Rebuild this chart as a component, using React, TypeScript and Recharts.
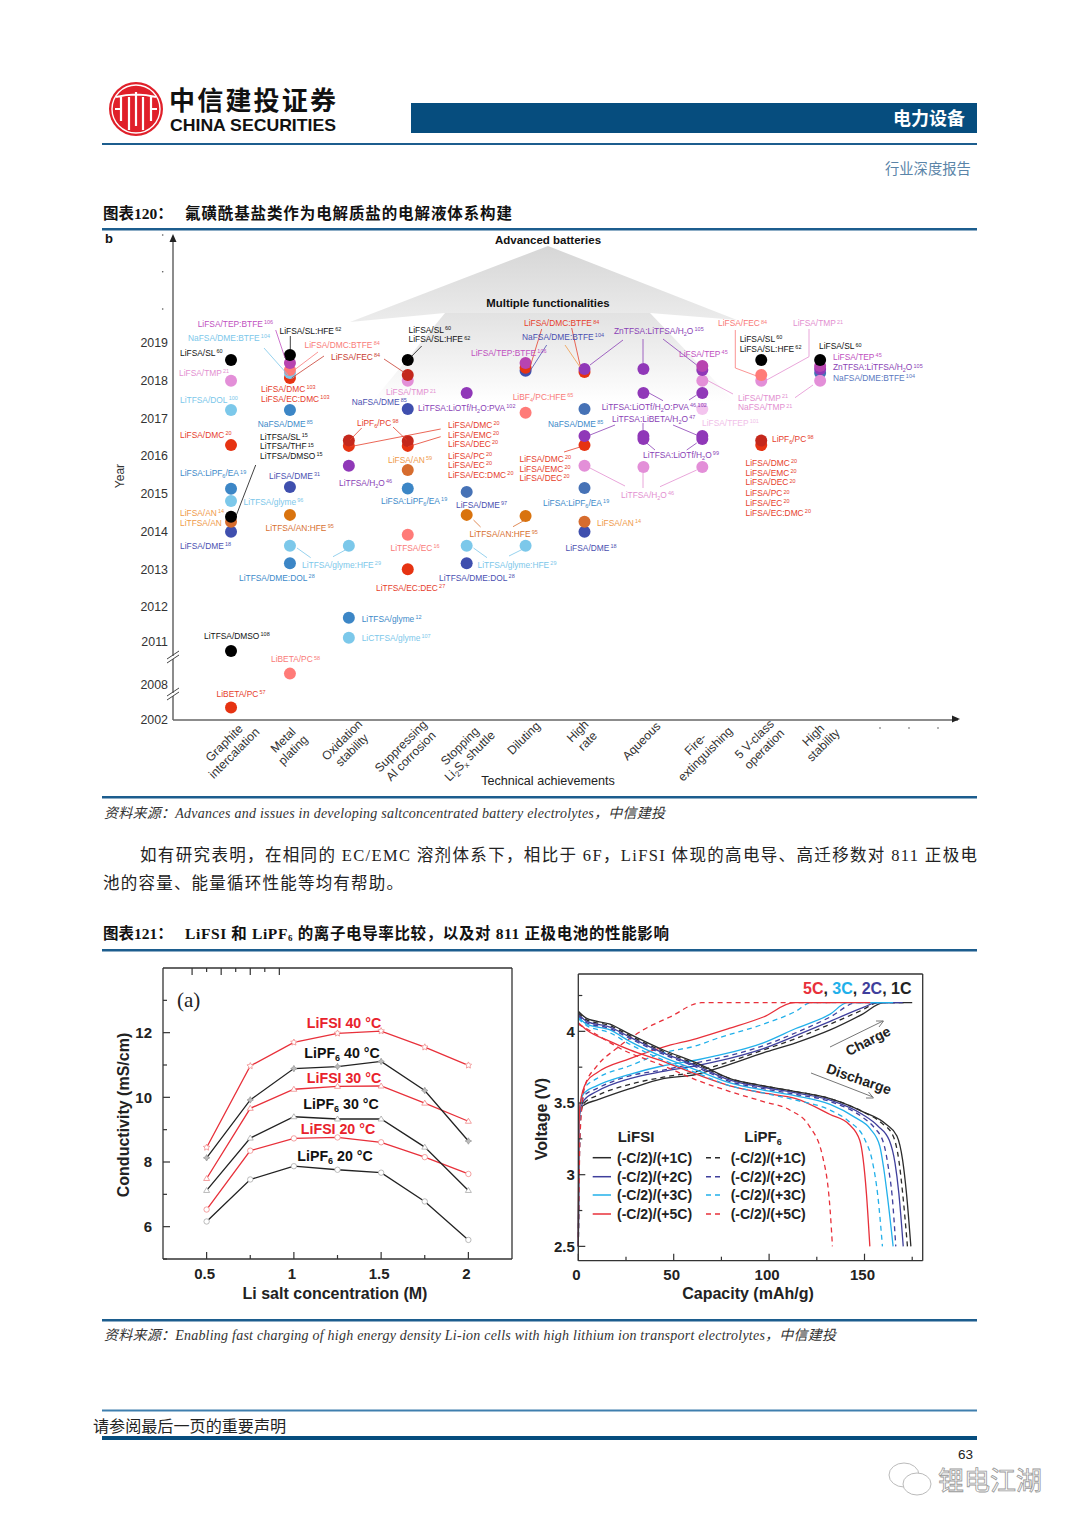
import React from "react";
import { ScatterChart, Scatter, LineChart, Line, XAxis, YAxis } from "recharts";

const SANS = "'Liberation Sans', Arial, sans-serif";
const CJK = "'Noto Sans CJK SC', sans-serif";
const SERIF = "'Liberation Serif', 'Noto Sans CJK SC', serif";

/* ---------- Figure 120 data ---------- */
const achievementLabels = [
  ["Graphite", "intercalation"], ["Metal", "plating"], ["Oxidation", "stability"],
  ["Suppressing", "Al corrosion"], ["Stopping", "Li_2S_x shuttle"], ["Diluting"],
  ["High", "rate"], ["Aqueous"], ["Fire-", "extinguishing"], ["5 V-class", "operation"], ["High", "stability"],
];
const achievementCenterDrop = [31, 28, 28, 34, 34, 21, 19, 24, 32, 27, 23];
const achievementTicks = [0, 1, 2, 3, 4, 5, 6, 7, 8, 9, 10];
const yearPositions = [2019, 2018, 2017, 2016, 2015, 2014, 2013, 2012, 2011.07, 2009.95, 2009];
const yearLabels = ["2019", "2018", "2017", "2016", "2015", "2014", "2013", "2012", "2011", "2008", "2002"];

const ptBlue = [[0, 2015.13], [1, 2017.22], [1, 2013.16], [2, 2011.71], [3, 2015.14]];
const ptSteel = [[4, 2015.05], [6, 2017.25], [6, 2015.15], [10, 2018.2]];
const ptNavy = [[0, 2013.99], [1, 2015.18], [3, 2017.25], [4, 2013.16], [5, 2018.26], [6, 2013.99]];
const ptOrange = [[1, 2014.44], [4, 2014.44], [5, 2014.41]];
const ptOrange2 = [[0, 2014.26], [3, 2015.63], [6, 2014.26]];
const ptRed = [[0, 2016.29], [0, 2009.33], [1, 2018.07], [2, 2016.27], [3, 2016.27], [3, 2013.0], [5, 2018.34], [6, 2018.23], [6, 2016.29], [9, 2016.29]];
const ptPink = [[0, 2018.0], [3, 2018.0], [6, 2015.74], [7, 2015.71], [8, 2015.71], [8, 2018.0], [9, 2018.0], [10, 2018.0]];
const ptLightPink = [[8, 2017.25]];
const ptLightBlue = [[0, 2017.22], [0, 2014.81], [1, 2018.2], [1, 2013.62], [2, 2013.62], [2, 2011.18], [4, 2013.62], [5, 2013.62]];
const ptSalmon = [[1, 2018.28], [1, 2010.23], [3, 2013.91], [5, 2017.15], [9, 2018.15]];
const ptDarkRed = [[2, 2016.41], [3, 2016.4], [3, 2018.15], [9, 2016.41]];
const ptPurple = [[2, 2015.74], [4, 2017.67], [6, 2018.31], [6, 2016.53], [7, 2018.31], [7, 2017.67], [7, 2016.53], [7, 2016.45], [8, 2018.28], [8, 2017.67], [8, 2016.53], [8, 2016.45], [10, 2018.31]];
const ptMagenta = [[1, 2018.47], [5, 2018.47], [8, 2018.39], [10, 2018.39]];
const ptBlack = [[0, 2018.55], [1, 2018.68], [3, 2018.55], [9, 2018.55], [10, 2018.55], [0, 2014.39], [0, 2010.83]];

const C = {
  blue: "#3c86c6", steel: "#4672b6", navy: "#3f4fae", orange: "#d9730e", orange2: "#d66c2e",
  red: "#e63312", pink: "#e38fd8", lightPink: "#f3c4ee", lightBlue: "#7cc8ea", salmon: "#ff7b78",
  darkRed: "#c4281c", purple: "#9038b8", magenta: "#b844b0", black: "#000000",
};
const scatterLayers: [number[][], string][] = [
  [ptBlue, C.blue], [ptSteel, C.steel], [ptNavy, C.navy], [ptOrange, C.orange], [ptOrange2, C.orange2],
  [ptRed, C.red], [ptPink, C.pink], [ptLightPink, C.lightPink], [ptLightBlue, C.lightBlue], [ptSalmon, C.salmon],
  [ptDarkRed, C.darkRed], [ptPurple, C.purple], [ptMagenta, C.magenta], [ptBlack, C.black],
];

const LC = { mag: "#c050c0", lb: "#7cc7ea", blk: "#111111", sal: "#f97a78", dr: "#c83c30", pk: "#e38fd0", red: "#e6402c", blu: "#3d8ac9", nav: "#4a4fb0", org: "#ef9a4a", dorg: "#d87030", pur: "#8a3fb5", lpk: "#f0c0e8", stl: "#5a78c0" };
const electrolyteNotes: [string, number, number, string][] = [
  ["LiFSA/TEP:BTFE^106", 197.7, 324, LC.mag], ["NaFSA/DME:BTFE^104", 188, 338, LC.lb], ["LiFSA/SL:HFE^62", 279.5, 331, LC.blk],
  ["LiFSA/DMC:BTFE^84", 304.5, 345, LC.sal], ["LiFSA/FEC^84", 331, 356.7, LC.dr], ["LiFSA/SL^60", 180, 353, LC.blk],
  ["LiFSA/TMP^21", 179, 373, LC.pk], ["LiTFSA/DOL^100", 180, 400, LC.lb], ["LiFSA/DMC^103", 261, 389, LC.red],
  ["LiFSA/EC:DMC^103", 261, 399, LC.red], ["NaFSA/DME^85", 257.7, 424, LC.blu], ["LiFSA/DMC^20", 180, 435, LC.red],
  ["LiTFSA/SL^15", 260, 437, LC.blk], ["LiTFSA/THF^15", 260, 446.5, LC.blk], ["LiTFSA/DMSO^15", 260, 456, LC.blk],
  ["LiFSA:LiPF_6/EA^19", 180, 473.5, LC.blu], ["LiFSA/DME^31", 269, 476, LC.nav], ["LiTFSA/glyme^96", 243.5, 502, LC.lb],
  ["LiFSA/AN^14", 180, 513, LC.org], ["LiTFSA/AN", 180, 523, LC.org], ["LiTFSA/AN:HFE^95", 265.5, 528, LC.dorg],
  ["LiFSA/DME^18", 180, 546, LC.nav], ["LiTFSA/glyme:HFE^29", 302, 565, LC.lb], ["LiTFSA/DME:DOL^28", 239, 578, LC.blu],
  ["LiTFSA/EC^16", 390.5, 548, LC.sal], ["LiTFSA/EC:DEC^27", 376, 588, LC.red], ["LiTFSA/DME:DOL^28", 439, 578, LC.nav],
  ["LiTFSA/glyme:HFE^29", 477.5, 565, LC.lb], ["LiTFSA/AN:HFE^95", 469.6, 534, LC.dorg], ["LiFSA/AN^14", 597, 523, LC.org],
  ["LiFSA/DME^18", 565.6, 548, LC.nav], ["LiTFSA/glyme^12", 361.7, 619, LC.blu], ["LiCTFSA/glyme^107", 361.7, 638, LC.lb],
  ["LiTFSA/DMSO^108", 204, 636, LC.blk], ["LiBETA/PC^58", 271, 659.5, LC.sal], ["LiBETA/PC^57", 216.6, 694, LC.red],
  ["LiFSA/DME^97", 456, 505, LC.nav], ["LiFSA:LiPF_6/EA^19", 381, 501, LC.blu], ["LiTFSA/H_2O^46", 339, 483, LC.pur],
  ["LiFSA/AN^59", 388, 460, LC.org], ["LiPF_6/PC^98", 357, 423, LC.red],
  ["LiFSA/DMC^20", 448, 425, LC.red], ["LiFSA/EMC^20", 448, 435, LC.red], ["LiFSA/DEC^20", 448, 444, LC.red],
  ["LiFSA/PC^20", 448, 456, LC.red], ["LiFSA/EC^20", 448, 465, LC.red], ["LiFSA/EC:DMC^20", 448, 475, LC.red],
  ["NaFSA/DME^85", 351.7, 401.7, LC.nav], ["LiFSA/TMP^21", 386, 392.5, LC.pk], ["LiTFSA:LiOTf/H_2O:PVA^102", 418, 408, LC.pur],
  ["LiFSA/SL^60", 408.5, 330, LC.blk], ["LiFSA/SL:HFE^62", 408.5, 339.5, LC.blk], ["LiFSA/TEP:BTFE^106", 471, 353, LC.mag],
  ["LiFSA/DMC:BTFE^84", 524, 323.5, LC.red], ["NaFSA/DME:BTFE^104", 522, 337, LC.nav], ["LiBF_4/PC:HFE^65", 512.7, 397, LC.sal],
  ["ZnTFSA:LiTFSA/H_2O^105", 614, 331, LC.pur], ["LiFSA/TEP^45", 679, 353.7, LC.mag], ["LiFSA/FEC^84", 718, 323.5, LC.sal],
  ["LiFSA/TMP^21", 793, 323.5, LC.pk], ["LiFSA/SL^60", 739.7, 339, LC.blk], ["LiFSA/SL:HFE^62", 739.7, 349, LC.blk],
  ["LiFSA/SL^60", 819, 346.5, LC.blk], ["LiFSA/TEP^45", 833, 357, LC.mag], ["ZnTFSA:LiTFSA/H_2O^105", 833, 367.5, LC.pur],
  ["NaFSA/DME:BTFE^104", 833, 378, LC.stl], ["LiFSA/TMP^21", 738, 398, LC.pk], ["NaFSA/TMP^21", 738, 407.5, LC.pk],
  ["LiFSA/TFEP^101", 702, 423, LC.lpk], ["LiPF_6/PC^98", 772, 439, LC.red],
  ["LiFSA/DMC^20", 745.5, 463, LC.red], ["LiFSA/EMC^20", 745.5, 473, LC.red], ["LiFSA/DEC^20", 745.5, 482.5, LC.red],
  ["LiFSA/PC^20", 745.5, 493.5, LC.red], ["LiFSA/EC^20", 745.5, 503, LC.red], ["LiFSA/EC:DMC^20", 745.5, 513, LC.red],
  ["LiTFSA:LiOTf/H_2O:PVA^46,102", 601.7, 407, LC.pur], ["LiTFSA:LiBETA/H_2O^47", 612, 419, LC.pur], ["NaFSA/DME^85", 548, 424, LC.blu],
  ["LiTFSA:LiOTf/H_2O^99", 643, 455, LC.pur], ["LiFSA/DMC^20", 519.5, 459, LC.red], ["LiFSA/EMC^20", 519.5, 469, LC.red],
  ["LiFSA/DEC^20", 519.5, 478, LC.red], ["LiTFSA/H_2O^46", 621, 495, LC.pk], ["LiFSA:LiPF_6/EA^19", 543, 503, LC.blu],
];
const leaderLines: [string, string][] = [
  ["M255.7 465L236 516", LC.blk], ["M290.3 336V350", LC.blk], ["M275.7 330L285 358", LC.mag], ["M264 348L288 375", LC.lb],
  ["M318 352L291.7 372", LC.sal], ["M324 356L291.7 378", LC.dr], ["M384 359L405 373", LC.dr], ["M421.7 346L408 360", LC.blk],
  ["M361.7 428L350 440", LC.red], ["M393 427L406.7 440", LC.red], ["M440.7 429L350 446.7", LC.red], ["M440.7 436.7L408 446.7", LC.red],
  ["M473.5 520L480.6 527", LC.dorg], ["M525 520L513 526.7", LC.dorg], ["M473.5 548L487 557.7", LC.lb], ["M525 548L509 556", LC.lb],
  ["M297 548L310.7 557.7", LC.lb], ["M349 548L333 556.7", LC.lb], ["M541.7 329L530 367", LC.red], ["M546.7 345L530 371", LC.nav],
  ["M565 345L580 367", LC.org], ["M571.7 328L580 365", LC.red], ["M623 340L590 365", LC.pur], ["M643 339V363", LC.pur],
  ["M663 339L696.7 365", LC.pur], ["M564 452L580 447", LC.red], ["M615 425L590 435", LC.pur], ["M643 423V430", LC.pur],
  ["M673 425L696.7 435", LC.pur], ["M655 450L646.7 443", LC.pur], ["M686.7 450L696.7 443", LC.pur], ["M649 393L663 400.7", LC.pur],
  ["M689 400L696.7 395", LC.pur], ["M706.7 380L733 394", LC.pk], ["M795 397.7L813 385", LC.pk], ["M735.3 330V368L756.7 376", LC.sal],
  ["M809 329V356.7L766.7 380", LC.pk], ["M588 467L625 486", LC.pk], ["M643 473V488", LC.pk], ["M696.7 470L660 486.7", LC.pk],
];

/* ---------- Figure 121 (a) data ---------- */
const concentration = [0.5, 0.75, 1, 1.25, 1.5, 1.75, 2];
const lifsi40 = [8.45, 10.97, 11.7, 11.98, 12.05, 11.55, 10.99];
const lipf40 = [8.13, 9.92, 10.89, 10.95, 11.11, 10.21, 8.65];
const lifsi30 = [7.49, 9.66, 10.25, 10.34, 10.35, 9.82, 9.26];
const lipf30 = [7.12, 8.74, 9.4, 9.33, 9.33, 8.46, 7.12];
const lifsi20 = [6.53, 8.35, 8.73, 8.76, 8.61, 8.15, 7.63];
const lipf20 = [6.16, 7.46, 7.87, 7.76, 7.67, 6.78, 5.59];
const condRows = concentration.map((c, i) => ({ c, lifsi40: lifsi40[i], lipf40: lipf40[i], lifsi30: lifsi30[i], lipf30: lipf30[i], lifsi20: lifsi20[i], lipf20: lipf20[i] }));
const condSeries: [string, string, string, string][] = [
  ["lipf20", "#222222", "#aaaaaa", "circle"], ["lifsi20", "#e8303a", "#f08a8a", "circle"],
  ["lipf30", "#222222", "#aaaaaa", "tri"], ["lifsi30", "#e8303a", "#f08a8a", "tri"],
  ["lipf40", "#222222", "#999999", "hex"], ["lifsi40", "#e8303a", "#f08a8a", "star"],
];
const condNotes: [string, string, number, number, string][] = [
  ["LiFSI 40 °C", "", 344, 1023, "#e8222c"], ["LiPF", " 40 °C", 342, 1052.7, "#111"], ["LiFSI 30 °C", "", 344, 1078, "#e8222c"],
  ["LiPF", " 30 °C", 341, 1104, "#111"], ["LiFSI 20 °C", "", 338, 1129, "#e8222c"], ["LiPF", " 20 °C", 335, 1155.6, "#111"],
];

/* ---------- Figure 121 (b) data: [capacity, voltage] ---------- */
const chg1s = [[0, 2.5], [0.3, 3.3], [0.9, 3.46], [3.5, 3.49], [9.6, 3.52], [27, 3.6], [44.5, 3.67], [62, 3.7], [72.5, 3.74], [97, 3.85], [114, 3.92], [132, 4.01], [149, 4.12], [160, 4.2], [175, 4.2]];
const chg1d = [[0, 2.5], [1, 3.4], [3, 3.5], [9.6, 3.55], [27, 3.63], [44.5, 3.68], [62, 3.72], [72.5, 3.76], [97, 3.87], [114, 3.95], [132, 4.05], [149, 4.15], [157, 4.2], [172, 4.2]];
const chg2s = [[0, 2.5], [0.5, 3.4], [3, 3.52], [9.6, 3.58], [27, 3.67], [44.5, 3.72], [62, 3.76], [72.5, 3.79], [97, 3.88], [114, 3.97], [132, 4.07], [150, 4.17], [156, 4.2], [170, 4.2]];
const chg2d = [[0, 2.5], [1, 3.4], [3, 3.55], [9.6, 3.6], [27, 3.69], [44.5, 3.73], [62, 3.78], [72.5, 3.81], [97, 3.9], [114, 3.99], [132, 4.1], [146, 4.2], [166, 4.2]];
const chg3s = [[0, 2.5], [0.5, 3.45], [3, 3.57], [9.6, 3.62], [27, 3.7], [44.5, 3.76], [62, 3.8], [72.5, 3.83], [97, 3.92], [114, 4.02], [132, 4.12], [141, 4.2], [165, 4.2]];
const chg3d = [[0, 2.5], [1, 3.35], [3, 3.6], [9.6, 3.67], [27, 3.76], [44.5, 3.85], [62, 3.9], [72.5, 3.95], [97, 4.05], [114, 4.14], [122, 4.2], [160, 4.2]];
const chg5s = [[0, 2.5], [0.3, 3.3], [1, 3.5], [4.4, 3.65], [9.6, 3.71], [27, 3.81], [44.5, 3.89], [62, 3.95], [79, 4.02], [97, 4.1], [113, 4.2], [153, 4.2]];
const chg5d = [[0, 2.5], [1, 3.3], [3.5, 3.62], [9.6, 3.755], [20, 3.88], [34, 4.01], [48, 4.1], [64.6, 4.2], [134, 4.2]];
const dis1s = [[0, 4.14], [4.4, 4.09], [16.6, 4.05], [27, 3.98], [44.5, 3.87], [62, 3.78], [79.5, 3.67], [97, 3.62], [114, 3.58], [132, 3.53], [149, 3.44], [161.5, 3.35], [167, 3.27], [170, 3.1], [172, 2.87], [174.3, 2.5]];
const dis1d = [[0, 4.13], [4.4, 4.08], [16.6, 4.04], [27, 3.97], [44.5, 3.86], [62, 3.77], [79.5, 3.67], [97, 3.62], [114, 3.58], [132, 3.53], [149, 3.44], [159, 3.36], [165, 3.27], [168, 3.1], [170, 2.87], [172.5, 2.5]];
const dis2s = [[0, 4.12], [4.4, 4.07], [16.6, 4.03], [27, 3.96], [44.5, 3.85], [62, 3.76], [79.5, 3.66], [97, 3.61], [114, 3.57], [132, 3.52], [149, 3.42], [157, 3.34], [163, 3.24], [166, 3.08], [168, 2.87], [170.3, 2.5]];
const dis2d = [[0, 4.11], [4.4, 4.06], [16.6, 4.02], [27, 3.95], [44.5, 3.84], [62, 3.75], [79.5, 3.65], [97, 3.6], [114, 3.56], [132, 3.51], [149, 3.4], [155, 3.33], [160, 3.22], [162.5, 3.05], [164.5, 2.85], [166.4, 2.5]];
const dis3s = [[0, 4.1], [4.4, 4.05], [16.6, 4.01], [27, 3.93], [44.5, 3.82], [62, 3.73], [79.5, 3.64], [97, 3.59], [114, 3.55], [132, 3.49], [145, 3.4], [153, 3.32], [158, 3.2], [160, 3.05], [162, 2.85], [165, 2.5]];
const dis3d = [[0, 4.09], [4.4, 4.04], [16.6, 3.99], [27, 3.91], [44.5, 3.8], [62, 3.71], [79.5, 3.62], [97, 3.57], [114, 3.52], [132, 3.45], [142, 3.37], [150, 3.25], [154, 3.1], [157, 2.85], [159.4, 2.5]];
const dis5s = [[0, 4.06], [4.4, 4.01], [16.6, 3.93], [27, 3.87], [44.5, 3.79], [62, 3.7], [79.5, 3.62], [97, 3.57], [114, 3.53], [132, 3.42], [142, 3.35], [147.5, 3.24], [151, 2.87], [152.8, 2.5]];
const dis5d = [[0, 4.05], [8, 3.99], [22, 3.88], [44.5, 3.76], [62, 3.66], [79.5, 3.58], [97, 3.51], [111, 3.45], [121, 3.34], [128, 3.13], [132, 2.75], [133.2, 2.5]];

const RATE = { c1: "#2b2b2b", c2: "#3f3f9c", c3: "#22b0ea", c5: "#e8303a" };
const voltCurves: [number[][], string, boolean][] = [
  [chg1s, RATE.c1, false], [chg1d, RATE.c1, true], [chg2s, RATE.c2, false], [chg2d, RATE.c2, true],
  [chg3s, RATE.c3, false], [chg3d, RATE.c3, true], [chg5s, RATE.c5, false], [chg5d, RATE.c5, true],
  [dis5d, RATE.c5, true], [dis5s, RATE.c5, false], [dis3d, RATE.c3, true], [dis3s, RATE.c3, false],
  [dis2d, RATE.c2, true], [dis2s, RATE.c2, false], [dis1d, RATE.c1, true], [dis1s, RATE.c1, false],
];
const legendRates: [string, string][] = [["(-C/2)/(+1C)", RATE.c1], ["(-C/2)/(+2C)", RATE.c2], ["(-C/2)/(+3C)", RATE.c3], ["(-C/2)/(+5C)", RATE.c5]];
const legendRowY = [1157.7, 1176.7, 1195, 1214];

/* ---------- helpers ---------- */
function richTokens(s: string) {
  const out: { t: string; k: string }[] = [];
  const re = /([\^_])([0-9x,]+)/g;
  let last = 0; let m: RegExpExecArray | null;
  while ((m = re.exec(s))) {
    if (m.index > last) out.push({ t: s.slice(last, m.index), k: "n" });
    out.push({ t: m[2], k: m[1] === "^" ? "sup" : "sub" });
    last = m.index + m[0].length;
  }
  if (last < s.length) out.push({ t: s.slice(last), k: "n" });
  return out;
}
function richSpans(s: string, size: number) {
  let shift = 0;
  return richTokens(s).map((tok, i) => {
    const target = tok.k === "sup" ? -size * 0.3 : tok.k === "sub" ? size * 0.22 : 0;
    const dy = target - shift; shift = target;
    return <tspan key={i} dy={dy} dx={tok.k === "sup" ? 1.2 : 0} fontSize={tok.k === "n" ? size : size * 0.65}>{tok.t}</tspan>;
  });
}
const noTick = { tickLine: false, tickSize: 0, tickMargin: 0, interval: 0 as const };

const hTicks = (major: number[], dir: number, labels: boolean, labelDx = -2, labelDy = 15) => (p: any) => {
  const isMajor = major.includes(p.payload.value);
  return (
    <g>
      <line x1={p.x} x2={p.x} y1={p.y} y2={p.y + dir * (isMajor ? 7 : 4)} stroke="#333" strokeWidth={1.2} />
      {labels && isMajor ? <text x={p.x + labelDx} y={p.y + labelDy} dy="0.35em" textAnchor="middle" fontFamily={SANS} fontWeight="bold" fontSize={15} fill="#222">{p.payload.value}</text> : null}
    </g>
  );
};
const vTicks = (major: number[], dir: number, labels: boolean, labelDx = 11) => (p: any) => {
  const isMajor = major.includes(p.payload.value);
  return (
    <g>
      <line y1={p.y} y2={p.y} x1={p.x} x2={p.x + dir * (isMajor ? 7 : 4)} stroke="#333" strokeWidth={1.2} />
      {labels && isMajor ? <text x={p.x - labelDx} y={p.y} dy="0.35em" textAnchor="end" fontFamily={SANS} fontWeight="bold" fontSize={15} fill="#222">{p.payload.value}</text> : null}
    </g>
  );
};
const starPath = (cx: number, cy: number, r: number, n: number, inner: number) => {
  let d = "";
  for (let i = 0; i < n * 2; i++) {
    const rr = i % 2 ? r * inner : r;
    const a = -Math.PI / 2 + (i * Math.PI) / n;
    d += (i ? "L" : "M") + (cx + rr * Math.cos(a)).toFixed(1) + " " + (cy + rr * Math.sin(a)).toFixed(1);
  }
  return d + "Z";
};
const marker = (kind: string, stroke: string) => (p: any) => {
  const { cx, cy, key } = p;
  if (kind === "circle") return <circle key={key} cx={cx} cy={cy} r={2.7} fill="#fff" stroke={stroke} strokeWidth={0.8} />;
  if (kind === "tri") return <path key={key} d={`M${cx} ${cy - 3}L${cx + 3} ${cy + 2}L${cx - 3} ${cy + 2}Z`} fill="#fff" stroke={stroke} strokeWidth={0.8} />;
  if (kind === "hex") return <path key={key} d={starPath(cx, cy, 3.2, 4, 0.5)} fill="#bbb" stroke={stroke} strokeWidth={0.8} />;
  return <path key={key} d={starPath(cx, cy, 3.4, 5, 0.5)} fill="#fff" stroke={stroke} strokeWidth={0.8} />;
};

const Rule = ({ y, h = 2.5, c = "#1c5d8e" }: { y: number; h?: number; c?: string }) => (
  <rect x={102} y={y} width={875} height={h} fill={c} />
);

/* ---------- charts ---------- */
function FundingChart() {
  const achievementTick = (p: any) => {
    const v = p.payload.value;
    const lines = achievementLabels[v];
    const cy = p.y + achievementCenterDrop[v];
    const cx = p.x + 1;
    return (
      <g transform={`rotate(-45 ${cx} ${cy})`}>
        {lines.map((l: string, i: number) => (
          <text key={i} x={cx} y={cy + (i - (lines.length - 1) / 2) * 14} dy="0.35em" textAnchor="middle" fontFamily={SANS} fontSize={12.2} fill="#333">
            {richSpans(l, 12.2)}
          </text>
        ))}
      </g>
    );
  };
  const yearTick = (p: any) => (
    <text x={p.x - 5} y={p.y} dy="0.35em" textAnchor="end" fontFamily={SANS} fontSize={12.4} fill="#333">
      {yearLabels[yearPositions.indexOf(p.payload.value)]}
    </text>
  );
  return (
    <div style={{ position: "absolute", left: 0, top: 230 }}>
      <ScatterChart width={1080} height={570} margin={{ left: 172, right: 122, top: 10, bottom: 79 }}>
        <XAxis type="number" dataKey="x" domain={[-0.985, 12.34]} ticks={achievementTicks} height={1} axisLine={{ stroke: "#666", strokeWidth: 1.5 }} tick={achievementTick} {...noTick} />
        <YAxis type="number" dataKey="y" domain={[2009, 2021.73]} ticks={yearPositions} width={1} axisLine={{ stroke: "#666", strokeWidth: 1.5 }} tick={yearTick} {...noTick} />
        {scatterLayers.map(([pts, color], i) => (
          <Scatter key={i} data={pts.map(([x, y]) => ({ x, y }))} isAnimationActive={false}
            shape={(p: any) => <circle cx={p.cx} cy={p.cy} r={6} fill={color} />} />
        ))}
      </ScatterChart>
    </div>
  );
}

function ConductivityChart() {
  const xMaj = [0.5, 1, 1.5, 2];
  const xAll = [0.5, 0.75, 1, 1.25, 1.5, 1.75, 2];
  const yMaj = [6, 8, 10, 12];
  const yAll = [5, 6, 7, 8, 9, 10, 11, 12, 13];
  const axis = { stroke: "#333", strokeWidth: 1.3 };
  return (
    <div style={{ position: "absolute", left: 100, top: 950 }}>
      <LineChart width={430} height={350} margin={{ left: 62, right: 17, top: 17, bottom: 40 }} data={condRows}>
        <XAxis type="number" dataKey="c" domain={[0.25, 2.25]} ticks={xAll} height={1} axisLine={axis} tick={hTicks(xMaj, -1, true)} {...noTick} />
        <XAxis xAxisId="top" orientation="top" type="number" domain={[0.25, 2.25]} ticks={xAll} height={1} axisLine={axis} tick={hTicks(xMaj, 1, false)} {...noTick} />
        <YAxis type="number" domain={[5, 14]} ticks={yAll} width={1} axisLine={axis} tick={vTicks(yMaj, 1, true)} {...noTick} />
        <YAxis yAxisId="right" orientation="right" type="number" domain={[5, 14]} ticks={yAll} width={1} axisLine={axis} tick={vTicks(yMaj, -1, false)} {...noTick} />
        {condSeries.map(([key, color, mk, kind]) => (
          <Line key={key} dataKey={key} stroke={color} strokeWidth={1.3} type="linear" dot={marker(kind, mk)} isAnimationActive={false} />
        ))}
      </LineChart>
    </div>
  );
}

function VoltageChart() {
  const xMaj = [0, 50, 100, 150];
  const xAll = [0, 25, 50, 75, 100, 125, 150, 175];
  const yMaj = [2.5, 3, 3.5, 4];
  const yAll = [2.5, 2.75, 3, 3.25, 3.5, 3.75, 4, 4.25];
  const axis = { stroke: "#333", strokeWidth: 1.3 };
  return (
    <div style={{ position: "absolute", left: 530, top: 950 }}>
      <LineChart width={420} height={350} margin={{ left: 47.3, right: 26.3, top: 23, bottom: 38.3 }}>
        <XAxis type="number" dataKey="x" domain={[0, 180.5]} ticks={xAll} height={1} axisLine={axis} tick={hTicks(xMaj, -1, true, -2, 14)} {...noTick} />
        <XAxis xAxisId="top" orientation="top" type="number" domain={[0, 180.5]} ticks={xAll} height={1} axisLine={axis} tick={hTicks(xMaj, 1, false)} {...noTick} />
        <YAxis type="number" dataKey="v" domain={[2.4, 4.4]} ticks={yAll} width={1} axisLine={axis} tick={vTicks(yMaj, 1, true, 3.5)} {...noTick} />
        <YAxis yAxisId="right" orientation="right" type="number" domain={[2.4, 4.4]} ticks={yAll} width={1} axisLine={axis} tick={vTicks(yMaj, -1, false)} {...noTick} />
        {voltCurves.map(([curve, color, dashed], i) => (
          <Line key={i} data={curve.map(([x, v]) => ({ x, v }))} dataKey="v" stroke={color} strokeWidth={1.3}
            strokeDasharray={dashed ? "5 4" : undefined} type="monotone" dot={false} isAnimationActive={false} />
        ))}
      </LineChart>
    </div>
  );
}

/* ---------- page ---------- */
export default function App() {
  const overlayStyle: React.CSSProperties = { position: "absolute", left: 0, top: 0, pointerEvents: "none" };
  return (
    <div style={{ position: "absolute", left: 0, top: 0, width: 1080, height: 1527, background: "#fff", overflow: "hidden" }}>
      {/* backdrop: funnel behind the points */}
      <svg width={1080} height={1527} style={overlayStyle}>
        <defs>
          <linearGradient id="funA" x1="0" y1="0" x2="0" y2="1">
            <stop offset="0" stopColor="#d6d6d6" />
            <stop offset="1" stopColor="#ececec" />
          </linearGradient>
          <linearGradient id="funB" x1="0" y1="0" x2="0" y2="1">
            <stop offset="0" stopColor="#e2e2e2" />
            <stop offset="1" stopColor="#ffffff" />
          </linearGradient>
        </defs>
        <polygon points="548,246 737,320 650,313 445,313 350,322" fill="url(#funA)" />
        <polygon points="445,313 650,313 735,402 372,402" fill="url(#funB)" />
      </svg>

      <FundingChart />
      <ConductivityChart />
      <VoltageChart />

      <svg width={1080} height={1527} style={overlayStyle}>
        {/* header */}
        <circle cx={136} cy={109} r={27} fill="#e0202a" />
        <circle cx={136} cy={109} r={24} fill="none" stroke="#fff" strokeWidth={1.4} />
        <path d="M116 97Q136 92 156 97M121 97V121M151 97V121M129 97V130M143 97V130M136 92V126M115 109H121M151 109H157" fill="none" stroke="#fff" strokeWidth={2.2} />
        <text x={169} y={110} fontFamily={CJK} fontWeight="bold" fontSize={26} fill="#111" textLength={167}>中信建投证券</text>
        <text x={170} y={131} fontFamily={SANS} fontWeight="bold" fontSize={17} fill="#111" textLength={166} lengthAdjust="spacingAndGlyphs">CHINA SECURITIES</text>
        <rect x={411} y={103} width={566} height={30} fill="#064d7e" />
        <text x={965} y={119} dy="0.35em" textAnchor="end" fontFamily={CJK} fontWeight="bold" fontSize={18} fill="#fff">电力设备</text>
        <Rule y={143} h={2} c="#1c5d8e" />
        <text x={885} y={169} dy="0.35em" fontFamily={CJK} fontSize={14.3} fill="#5a84a8">行业深度报告</text>

        {/* figure 120 heading */}
        <text x={103} y={213} dy="0.36em" fontFamily={SERIF} fontWeight="bold" fontSize={15.5} fill="#111">图表120：</text>
        <text x={185} y={213} dy="0.36em" fontFamily={CJK} fontWeight="bold" fontSize={15.5} fill="#111" textLength={327}>氟磺酰基盐类作为电解质盐的电解液体系构建</text>
        <Rule y={228} />

        {/* figure 120 annotations */}
        <text x={105} y={243} fontFamily={SANS} fontWeight="bold" fontSize={13} fill="#111">b</text>
        <text x={548} y={240} dy="0.35em" textAnchor="middle" fontFamily={SANS} fontWeight="bold" fontSize={11.5} fill="#111">Advanced batteries</text>
        <text x={548} y={303} dy="0.35em" textAnchor="middle" fontFamily={SANS} fontWeight="bold" fontSize={11.4} fill="#111">Multiple functionalities</text>
        <text transform="translate(120 476) rotate(-90)" dy="0.35em" textAnchor="middle" fontFamily={SANS} fontSize={12} fill="#333">Year</text>
        <text x={548} y={781} dy="0.35em" textAnchor="middle" fontFamily={SANS} fontSize={12.6} fill="#222">Technical achievements</text>
        <path d="M173 234L169.5 242H176.5Z" fill="#222" />
        <path d="M960 719L952 715.5V722.5Z" fill="#222" />
        <rect x={170} y={656} width={6} height={3} fill="#fff" />
        <rect x={170} y={693} width={6} height={3} fill="#fff" />
        <path d="M167 659L179 651M167 663L179 655M167 696L179 688M167 700L179 692" stroke="#444" strokeWidth={1} />
        {[[162.7, 235], [162.7, 271.7], [162.7, 309], [880, 728], [909, 728], [938, 728]].map(([x, y], i) => (
          <circle key={i} cx={x} cy={y} r={0.8} fill="#555" />
        ))}
        {leaderLines.map(([d, c], i) => <path key={i} d={d} fill="none" stroke={c} strokeWidth={0.8} />)}
        {electrolyteNotes.map(([s, x, y, c], i) => (
          <text key={i} x={x} y={y + 2.9} fontFamily={SANS} fontSize={8.4} fill={c}>{richSpans(s, 8.4)}</text>
        ))}
        <Rule y={796} />
        <text x={104} y={813} dy="0.35em" fontFamily={SERIF} fontStyle="italic" fontSize={14} fill="#333" textLength={561}>资料来源：Advances and issues in developing saltconcentrated battery electrolytes，中信建投</text>

        {/* body */}
        <text x={140} y={855} dy="0.35em" fontFamily={SERIF} fontSize={16.5} fill="#222" textLength={837}>如有研究表明，在相同的 EC/EMC 溶剂体系下，相比于 6F，LiFSI 体现的高电导、高迁移数对 811 正极电</text>
        <text x={103} y={883} dy="0.35em" fontFamily={SERIF} fontSize={16.5} fill="#222" textLength={300}>池的容量、能量循环性能等均有帮助。</text>

        {/* figure 121 heading */}
        <text x={103} y={933.5} dy="0.36em" fontFamily={SERIF} fontWeight="bold" fontSize={15.5} fill="#111">图表121：</text>
        <text x={185} y={933.5} dy="0.36em" fontFamily={SERIF} fontWeight="bold" fontSize={15.5} fill="#111" textLength={484}>
          LiFSI 和 LiPF<tspan fontSize={9} dy={2}>6</tspan><tspan dy={-2}> 的离子电导率比较，以及对 811 正极电池的性能影响</tspan>
        </text>
        <Rule y={949} />

        {/* conductivity annotations */}
        <text x={177} y={1007} fontFamily="'Liberation Serif', serif" fontSize={21} fill="#222">(a)</text>
        <text transform="translate(123 1115) rotate(-90)" dy="0.35em" textAnchor="middle" fontFamily={SANS} fontWeight="bold" fontSize={16} fill="#222">Conductivity (mS/cm)</text>
        <text x={335} y={1293} dy="0.35em" textAnchor="middle" fontFamily={SANS} fontWeight="bold" fontSize={16} fill="#222">Li salt concentration (M)</text>
        {condNotes.map(([a, b, x, y, c], i) => (
          <text key={i} x={x} y={y} dy="0.35em" textAnchor="middle" fontFamily={SANS} fontWeight="bold" fontSize={14.2} fill={c}>
            {a}{b ? <><tspan fontSize={9} dy={3}>6</tspan><tspan dy={-3}>{b}</tspan></> : null}
          </text>
        ))}

        {/* voltage annotations */}
        <text transform="translate(541 1119) rotate(-90)" dy="0.35em" textAnchor="middle" fontFamily={SANS} fontWeight="bold" fontSize={16} fill="#222">Voltage (V)</text>
        <text x={748} y={1293} dy="0.35em" textAnchor="middle" fontFamily={SANS} fontWeight="bold" fontSize={16} fill="#222">Capacity (mAh/g)</text>
        <text x={803} y={988.5} dy="0.35em" fontFamily={SANS} fontWeight="bold" fontSize={16}>
          <tspan fill={RATE.c5}>5C</tspan><tspan fill="#222">, </tspan><tspan fill={RATE.c3}>3C</tspan><tspan fill="#222">, </tspan><tspan fill={RATE.c2}>2C</tspan><tspan fill="#222">, 1C</tspan>
        </text>
        <text transform="translate(868 1041) rotate(-27)" dy="0.35em" textAnchor="middle" fontFamily={SANS} fontWeight="bold" fontSize={14} fill="#222">Charge</text>
        <text transform="translate(859 1079) rotate(19)" dy="0.35em" textAnchor="middle" fontFamily={SANS} fontWeight="bold" fontSize={14} fill="#222">Discharge</text>
        <path d="M830 1047L883 1021M876 1021H883.5L879 1027" fill="none" stroke="#777" strokeWidth={1} />
        <path d="M811 1073L873 1097M866 1098H873.5L868.5 1092" fill="none" stroke="#777" strokeWidth={1} />
        <text x={636} y={1137} dy="0.35em" textAnchor="middle" fontFamily={SANS} fontWeight="bold" fontSize={15} fill="#222">LiFSI</text>
        <text x={763} y={1137} dy="0.35em" textAnchor="middle" fontFamily={SANS} fontWeight="bold" fontSize={15} fill="#222">LiPF<tspan fontSize={9} dy={3}>6</tspan></text>
        {legendRates.map(([label, color], i) => (
          <g key={label}>
            <line x1={592.7} x2={611} y1={legendRowY[i]} y2={legendRowY[i]} stroke={color} strokeWidth={1.5} />
            <text x={617} y={legendRowY[i]} dy="0.35em" fontFamily={SANS} fontWeight="bold" fontSize={14} fill="#222">{label}</text>
            <line x1={706} x2={724} y1={legendRowY[i]} y2={legendRowY[i]} stroke={color} strokeWidth={1.5} strokeDasharray="5 4" />
            <text x={730.7} y={legendRowY[i]} dy="0.35em" fontFamily={SANS} fontWeight="bold" fontSize={14} fill="#222">{label}</text>
          </g>
        ))}

        <Rule y={1319} />
        <text x={104} y={1335} dy="0.35em" fontFamily={SERIF} fontStyle="italic" fontSize={14} fill="#333" textLength={732}>资料来源：Enabling fast charging of high energy density Li-ion cells with high lithium ion transport electrolytes，中信建投</text>

        {/* footer */}
        <Rule y={1409.5} h={2} c="#3f7fae" />
        <text x={93} y={1426} dy="0.35em" fontFamily={SERIF} fontSize={16.1} fill="#222">请参阅最后一页的重要声明</text>
        <Rule y={1436} h={4} c="#064d7e" />
        <text x={958} y={1454} dy="0.35em" fontFamily={SANS} fontSize={13.5} fill="#222">63</text>
        <ellipse cx={904} cy={1475} rx={15} ry={12} fill="#fff" stroke="#bbb" strokeWidth={1} />
        <ellipse cx={917} cy={1484} rx={14} ry={11} fill="#fff" stroke="#bbb" strokeWidth={1} />
        <text x={938} y={1481} dy="0.36em" fontFamily={CJK} fontSize={26} fill="#fff" stroke="#999" strokeWidth={0.8}>锂电江湖</text>
      </svg>
    </div>
  );
}
